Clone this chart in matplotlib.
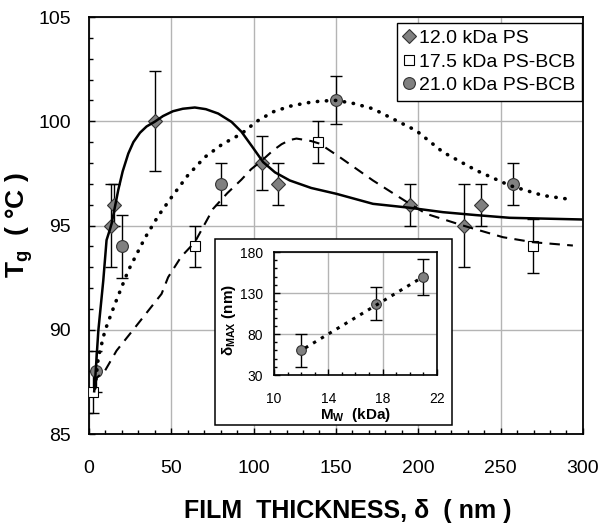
import matplotlib
matplotlib.use("Agg")
import matplotlib.pyplot as plt
from matplotlib.patches import Rectangle
from matplotlib.ticker import MultipleLocator

plt.rcParams["font.family"] = ["Liberation Sans", "DejaVu Sans"]
plt.rcParams["mathtext.fontset"] = "custom"
plt.rcParams["mathtext.rm"] = "Liberation Sans"
plt.rcParams["mathtext.bf"] = "Liberation Sans:bold"
plt.rcParams["mathtext.it"] = "Liberation Sans:italic"

# measured points (Tg vs film thickness)
ps120_x = [13.5, 15.4, 40, 105, 115, 195, 228, 238]
ps120_y = [95.0, 96.0, 100.0, 98.0, 97.0, 96.0, 95.0, 96.0]
ps120_err = [2.0, 1.0, 2.4, 1.3, 1.0, 1.0, 2.0, 1.0]

bcb175_x = [2.6, 64.3, 139, 269.6]
bcb175_y = [87.0, 94.0, 99.0, 94.0]
bcb175_err = [1.0, 1.0, 1.0, 1.3]

bcb210_x = [4.2, 19.8, 80, 150, 257.5]
bcb210_y = [88.0, 94.0, 97.0, 101.0, 97.0]
bcb210_err = [1.0, 1.5, 1.0, 1.15, 1.0]

# fitted curves
fit120_x = [3.2, 3.6, 5.7, 8.7, 10.7, 12.7, 13.8, 17.8, 20.5, 23.9, 27, 31, 35, 40,
            45, 51, 57, 64.3, 71, 78.5, 86.6, 92.6, 99, 105.8, 113, 122, 135,
            150.3, 172.5, 195, 215, 235, 255.5, 299]
fit120_y = [87.05, 87.4, 89.95, 92.35, 94.3, 94.8, 95.1, 96.7, 97.6, 98.45, 99.0,
            99.45, 99.75, 99.98, 100.25, 100.48, 100.6, 100.66, 100.58, 100.37,
            99.97, 99.5, 98.8, 98.04, 97.55, 97.16, 96.8, 96.52, 96.04, 95.85,
            95.64, 95.5, 95.37, 95.29]

fit175_x = [4.0, 4.7, 9.7, 16.8, 27.9, 44.1, 48.1, 56, 64.3, 75.4, 84, 92.6,
            98.5, 104.8, 111.8, 117, 122, 126, 130, 135, 140, 152.3, 172.5,
            194.8, 204.9, 227.1, 251.4, 269.6, 293.9]
fit175_y = [87.4, 87.7, 88.03, 89.0, 90.1, 91.72, 92.52, 93.5, 94.2, 95.8, 96.55,
            97.2, 97.7, 98.1, 98.6, 98.9, 99.1, 99.17, 99.12, 99.05, 98.93, 98.28,
            97.16, 96.04, 95.56, 95.0, 94.44, 94.2, 94.04]

fit210_x = [3.6, 5.7, 9.7, 15.8, 23.9, 34, 42, 50.2, 60, 70.4, 81, 92.6, 102,
            111.8, 122, 132, 141, 150.3, 161, 172.5, 185, 198.8, 215, 235.3,
            255.5, 275.7, 289.9]
fit210_y = [87.2, 88.67, 89.95, 91.24, 92.84, 94.4, 95.45, 96.36, 97.4, 98.28,
            98.9, 99.4, 100.0, 100.45, 100.72, 100.88, 100.97, 101.0, 100.85,
            100.6, 100.1, 99.55, 98.52, 97.64, 96.92, 96.44, 96.28]

# inset: delta_max vs Mw
mw = [12.0, 17.5, 21.0]
dmax = [60, 117, 150]
dmax_err = [20, 20, 22]
mw_fit = [12.3, 20.7]
dmax_fit = [63, 147]
mw_ticks = [10, 14, 18, 22]
dmax_ticks = [30, 80, 130, 180]

GRAY = "#808080"
EDGE = "#333333"

fig = plt.figure(figsize=(6.05, 5.25), dpi=100)
ax = fig.add_axes([0.147, 0.1733, 0.8165, 0.7943])

eb = dict(fmt="none", ecolor="black", elinewidth=1.0, capsize=4, capthick=1.0, zorder=2)
ax.errorbar(ps120_x, ps120_y, yerr=ps120_err, **eb)
ax.errorbar(bcb175_x, bcb175_y, yerr=bcb175_err, **eb)
ax.errorbar(bcb210_x, bcb210_y, yerr=bcb210_err, **eb)

ax.plot(ps120_x, ps120_y, ls="none", marker="D", ms=7, mfc=GRAY, mec=EDGE,
        mew=0.8, zorder=3, label="12.0 kDa PS")
ax.plot(bcb175_x, bcb175_y, ls="none", marker="s", ms=7.5, mfc="white", mec="black",
        mew=0.8, zorder=3, label="17.5 kDa PS-BCB")
ax.plot(bcb210_x, bcb210_y, ls="none", marker="o", ms=8.5, mfc=GRAY, mec=EDGE,
        mew=0.8, zorder=3, label="21.0 kDa PS-BCB")

ax.plot(fit120_x, fit120_y, color="black", lw=1.8, zorder=4)
ax.plot(fit175_x, fit175_y, color="black", lw=1.5, dashes=(5, 3.5), zorder=4)
ax.plot(fit210_x, fit210_y, color="black", lw=2.6, ls=(0, (0.1, 2.4)),
        dash_capstyle="round", zorder=4)

ax.set_xlim(0, 300)
ax.set_ylim(85, 105)
ax.xaxis.set_major_locator(MultipleLocator(50))
ax.xaxis.set_minor_locator(MultipleLocator(10))
ax.yaxis.set_major_locator(MultipleLocator(5))
ax.yaxis.set_minor_locator(MultipleLocator(1))
ax.tick_params(which="both", direction="in", top=False, right=False, width=1.0)
ax.tick_params(which="major", length=4.5, labelsize=14)
ax.tick_params(axis="y", which="major", pad=13)
ax.tick_params(axis="x", which="major", pad=19)
ax.tick_params(which="minor", length=3)
ax.grid(True, which="major", color="#b4b4b4", lw=1.0)
ax.set_axisbelow(True)
for s in ax.spines.values():
    s.set_linewidth(1.3)

ax.set_xlabel("FILM  THICKNESS, δ  ( nm )", fontsize=18, fontweight="bold")
ax.set_ylabel(r"T$_{\mathbf{g}}$  ( °C )", fontsize=19, fontweight="bold")
ax.xaxis.set_label_coords(0.524, -0.155)
ax.yaxis.set_label_coords(-0.11, 0.5)

leg = ax.legend(loc="upper right", bbox_to_anchor=(0.998, 0.986), borderaxespad=0,
                fontsize=14, numpoints=1, handlelength=0.6, handletextpad=0.2,
                labelspacing=0.3, borderpad=0.35, fancybox=False, framealpha=1,
                edgecolor="black")
leg.get_frame().set_linewidth(1.0)

# white box behind inset
fig.patches.append(Rectangle((0.3554, 0.1905), 0.3917, 0.3543, transform=fig.transFigure,
                             facecolor="white", edgecolor="black", lw=1.1, zorder=1))

ins = fig.add_axes([0.4529, 0.2857, 0.2694, 0.2343])
ins.set_zorder(2)
ins.errorbar(mw, dmax, yerr=dmax_err, fmt="none", ecolor="black", elinewidth=1.0,
             capsize=4, capthick=1.0, zorder=2)
ins.plot(mw, dmax, ls="none", marker="o", ms=7, mfc=GRAY, mec=EDGE, mew=0.8, zorder=3)
ins.plot(mw_fit, dmax_fit, color="black", lw=2.2, ls=(0, (1.1, 1.9)), zorder=4)
ins.set_xlim(10, 22)
ins.set_ylim(30, 180)
ins.set_xticks(mw_ticks)
ins.set_yticks(dmax_ticks)
ins.xaxis.set_minor_locator(MultipleLocator(1))
ins.yaxis.set_minor_locator(MultipleLocator(10))
ins.tick_params(which="both", direction="in", top=False, right=False, width=1.0)
ins.tick_params(which="major", length=4, labelsize=10)
ins.tick_params(axis="x", which="major", pad=12)
ins.tick_params(axis="y", which="major", pad=8)
ins.tick_params(which="minor", length=2.5)
ins.grid(True, which="major", color="#b4b4b4", lw=1.0)
ins.set_axisbelow(True)
for s in ins.spines.values():
    s.set_linewidth(1.2)
ins.set_xlabel(r"M$_{\mathbf{W}}$  (kDa)", fontsize=11, fontweight="bold")
ins.set_ylabel(r"δ$_{\mathbf{MAX}}$ (nm)", fontsize=11, fontweight="bold")
ins.xaxis.set_label_coords(0.5, -0.25)
ins.yaxis.set_label_coords(-0.22, 0.45)

fig.savefig("out.png", dpi=100)
